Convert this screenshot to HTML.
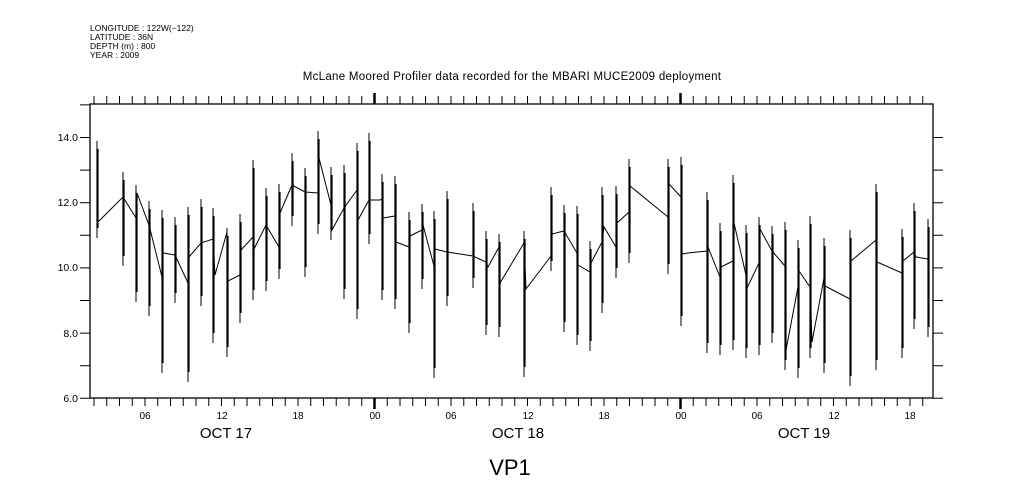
<!DOCTYPE html>
<html><head><meta charset="utf-8"><style>
html,body{margin:0;padding:0;background:#fff;}
svg{display:block;}
text{font-family:"Liberation Sans",sans-serif;fill:#000;}
</style></head><body>
<svg width="1009" height="504" viewBox="0 0 1009 504" xmlns="http://www.w3.org/2000/svg">
<defs>
<pattern id="tk" x="93.5" y="0" width="12.75" height="504" patternUnits="userSpaceOnUse">
<rect x="0" y="0" width="1" height="504" fill="#000"/>
</pattern>
</defs>
<g font-size="8.5">
<text x="90" y="31">LONGITUDE : 122W(−122)</text>
<text x="90" y="40">LATITUDE : 36N</text>
<text x="90" y="49">DEPTH (m) : 800</text>
<text x="90" y="58">YEAR : 2009</text>
</g>
<text x="512" y="80" font-size="11.5" text-anchor="middle" letter-spacing="0.3">McLane Moored Profiler data recorded for the MBARI MUCE2009 deployment</text>
<rect x="90" y="104" width="843" height="294" fill="none" stroke="#000" stroke-width="1.3"/>
<rect x="93" y="96" width="832" height="8" fill="url(#tk)"/>
<rect x="93" y="398" width="832" height="8" fill="url(#tk)"/>
<path d="M374.5 93V104M680.5 93V104M374.5 398V409M680.5 398V409" stroke="#000" stroke-width="2.5"/>
<path d="M80 398.3H90M80 365.7H90M80 333.1H90M80 300.5H90M80 267.9H90M80 235.3H90M80 202.7H90M80 170.1H90M80 137.5H90M80 104.9H90M933 398.3H943M933 365.7H943M933 333.1H943M933 300.5H943M933 267.9H943M933 235.3H943M933 202.7H943M933 170.1H943M933 137.5H943" stroke="#000" stroke-width="1"/>
<g font-size="10.5" text-anchor="end">
<text x="78" y="141">14.0</text><text x="78" y="206">12.0</text><text x="78" y="271">10.0</text><text x="78" y="337">8.0</text><text x="78" y="402">6.0</text>
</g>
<g font-size="10" text-anchor="middle">
<text x="145" y="419">06</text><text x="222" y="419">12</text><text x="298" y="419">18</text><text x="375" y="419">00</text>
<text x="451" y="419">06</text><text x="528" y="419">12</text><text x="604" y="419">18</text><text x="681" y="419">00</text>
<text x="757" y="419">06</text><text x="834" y="419">12</text><text x="910" y="419">18</text>
</g>
<g font-size="15" text-anchor="middle">
<text x="226" y="438">OCT 17</text><text x="518" y="438">OCT 18</text><text x="804" y="438">OCT 19</text>
</g>
<text x="510" y="475" font-family="Liberation Serif,serif" font-size="22" text-anchor="middle">VP1</text>

<polyline fill="none" stroke="#000" stroke-width="1" points="97,223 123,197 136,218 137,193 149,225 162,277 163,253 175,255 188,283 189,257 201,243 213,239 215,275 227,232 228,281 240,275 241,250 253,237 254,249 266,225 279,247 280,213 292,185 305,192 318,193 319,158 331,205 332,230 344,208 357,190 358,220 369,200 380,200 382,199 383,218 395,216 396,242 409,247 410,236 422,230 423,225 434,266 435,249 447,252 473,256 486,262 488,267 499,247 500,283 524,243 526,289 551,256 552,234 564,231 577,253 578,265 590,272 591,263 602,242 604,227 616,247 617,223 629,212 630,186 668,217 669,184 681,197 682,254 688,253 707,251 708,247 720,277 721,267 733,261 734,223 746,275 747,288 759,263 760,229 772,251 785,266 786,350 798,287 799,271 810,287 812,342 824,278 825,286 850,299 851,261 876,240 877,262 902,273 903,261 914,252 916,257 928,259"/>

<path fill="none" stroke="#000" stroke-width="1" d="M97 141V238M123 172V266M136 185V302M149 201V316M162 210V373M175 217V303M188 207V382M201 199V306M213 208V343M227 228V357M240 214V323M253 160V300M266 188V291M279 184V279M292 153V226M305 168V277M318 131V234M331 167V240M344 165V299M357 143V319M369 133V244M382 174V300M395 176V309M409 212V333M422 204V289M434 211V378M447 191V306M473 203V288M486 231V335M499 234V337M524 231V377M551 187V271M564 205V332M577 206V345M590 241V351M602 187V313M616 186V278M629 159V263M668 159V274M681 157V326M707 192V353M720 223V355M733 175V350M746 225V358M759 217V355M772 226V343M785 222V370M798 240V378M810 216V358M824 238V373M850 230V386M876 184V370M902 229V358M914 203V329M928 219V337"/>
<path fill="none" stroke="#000" stroke-width="2.2" d="M97.5 149V228M123.5 180V256M136.5 193V292M149.5 209V306M162.5 218V363M175.5 225V293M188.5 215V372M201.5 207V296M213.5 216V333M227.5 236V347M240.5 222V313M253.5 168V290M266.5 196V281M279.5 192V269M292.5 161V216M305.5 176V267M318.5 139V224M331.5 175V230M344.5 173V289M357.5 151V309M369.5 141V234M382.5 182V290M395.5 184V299M409.5 220V323M422.5 212V279M434.5 219V368M447.5 199V296M473.5 211V278M486.5 239V325M499.5 242V327M524.5 239V367M551.5 195V261M564.5 213V322M577.5 214V335M590.5 249V341M602.5 195V303M616.5 194V268M629.5 167V253M668.5 167V264M681.5 165V316M707.5 200V343M720.5 231V345M733.5 183V340M746.5 233V348M759.5 225V345M772.5 234V333M785.5 230V360M798.5 248V368M810.5 224V348M824.5 246V363M850.5 238V376M876.5 192V360M902.5 237V348M914.5 211V319M928.5 227V327"/>
</svg>
</body></html>
